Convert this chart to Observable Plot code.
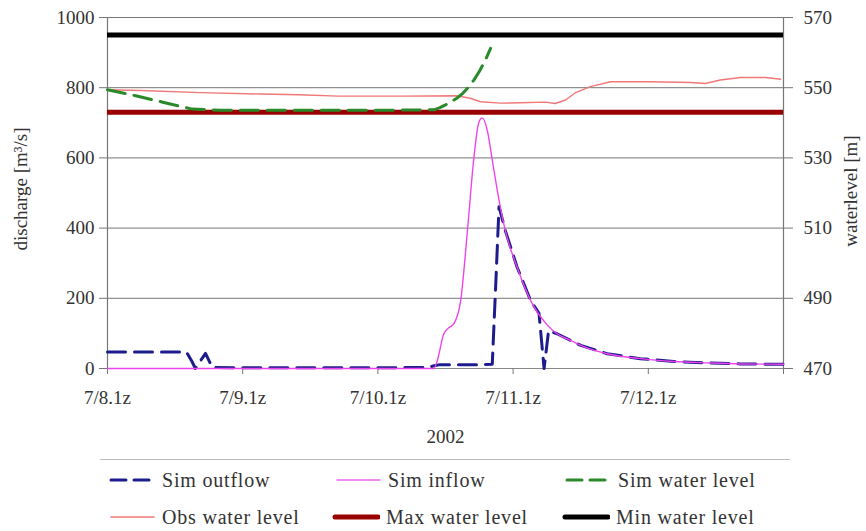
<!DOCTYPE html>
<html><head><meta charset="utf-8">
<script src="https://cdn.jsdelivr.net/npm/d3@7"></script>
<script src="https://cdn.jsdelivr.net/npm/@observablehq/plot@0.6"></script>
<style>
body{margin:0;background:#fff;font-family:"Liberation Serif","Times New Roman",Times,"DejaVu Serif",serif;color:#333;}
#wrap{position:relative;width:866px;height:531px;overflow:hidden;}
#legend{position:absolute;left:0;top:455px;width:866px;height:76px;}
.sep{position:absolute;left:100px;width:690px;top:4px;height:0;border-top:1px solid #bbb;}
.item{position:absolute;display:flex;align-items:center;font-size:20px;letter-spacing:0.8px;white-space:nowrap;}
.item svg{margin-right:6px;}
svg text{font-family:"Liberation Serif","Times New Roman",Times,"DejaVu Serif",serif;}
</style></head><body><div id="wrap"><div id="chart"></div><div id="legend"></div></div>
<script>
// x: hours since 7/8 01z
const xTickHours = [0, 24, 48, 72, 96, 120];
const xTickLabels = ["7/8.1z", "7/9.1z", "7/10.1z", "7/11.1z", "7/12.1z", ""];
const dischargeTicks = [0, 200, 400, 600, 800, 1000];
const levelTicks = [470, 490, 510, 530, 550, 570];

// Sim outflow [m3/s]
const outflowHours  = [0, 14, 15, 15.6, 17.4, 18.6, 24, 36, 48, 57, 58, 59, 66, 68.3, 68.9, 69.5, 70.6, 72.7, 75.1, 76.6, 77.5, 78.3, 79.8, 84, 88.7, 94.6, 100.5, 106.4, 112.4, 120];
const outflowValues = [47, 47, 20, 0, 43, 3, 2, 2, 2, 3, 8, 11, 11, 12, 232, 461, 394, 289, 194, 157, 0, 108, 99, 66, 42, 28, 20, 16, 13, 12];

// Sim inflow [m3/s]
const inflowHours  = [0, 57.9, 58.5, 59.7, 60.5, 61.5, 62.7, 63.9, 65, 65.9, 66.5, 67.4, 68.3, 69.5, 70.6, 72.7, 75.1, 78, 79.8, 82.2, 84, 88.7, 94.6, 100.5, 106.4, 112.4, 120];
const inflowValues = [0, 0, 20, 99, 115, 128, 194, 394, 594, 700, 714, 680, 594, 480, 394, 289, 194, 125, 99, 80, 66, 42, 28, 20, 16, 13, 12];

// Sim water level [m]
const simLevelHours  = [0, 5, 10, 15, 20, 30, 40, 50, 58, 59, 60, 61, 62, 63, 64, 65, 66, 67, 68];
const simLevelValues = [549.4, 547.7, 545.8, 543.9, 543.6, 543.6, 543.6, 543.6, 543.7, 544.3, 545.1, 546.0, 547.0, 548.3, 550.0, 552.1, 554.6, 557.6, 561.2];

// Obs water level [m]
const obsLevelHours  = [0, 5.9, 16.5, 27, 34, 41, 52, 62, 64.4, 66.2, 69.8, 73.3, 77.7, 79.5, 81.3, 83, 85.7, 89.3, 96.4, 103.5, 106.1, 108.8, 112.4, 116.8, 119.5];
const obsLevelValues = [549.4, 549.2, 548.6, 548.2, 548.0, 547.6, 547.6, 547.7, 547.0, 546.0, 545.6, 545.7, 545.9, 545.5, 546.5, 548.5, 550.3, 551.7, 551.7, 551.5, 551.2, 552.2, 552.9, 552.9, 552.4];

const maxWaterLevel = [543];
const minWaterLevel = [565];

const toY = lv => (lv - 470) * 10; // waterlevel -> left axis units
const outflow = outflowHours.map((h, i) => ({h, v: outflowValues[i]}));
const inflow = inflowHours.map((h, i) => ({h, v: inflowValues[i]}));
const simLevel = simLevelHours.map((h, i) => ({h, v: toY(simLevelValues[i])}));
const obsLevel = obsLevelHours.map((h, i) => ({h, v: toY(obsLevelValues[i])}));

const chart = Plot.plot({
  width: 866, height: 455,
  marginLeft: 107, marginRight: 83, marginTop: 17, marginBottom: 87,
  style: {fontSize: "19px", color: "#333", background: "#fff"},
  x: {domain: [0, 120]},
  y: {domain: [0, 1000]},
  marks: [
    Plot.ruleY(dischargeTicks.slice(1), {stroke: "#777", strokeWidth: 1}),
    Plot.ruleY([0], {stroke: "#888", strokeWidth: 1.2}),
    Plot.ruleX([0, 120], {stroke: "#777", strokeWidth: 1.2}),
    Plot.axisY({anchor: "left", ticks: dischargeTicks, tickFormat: d => String(d), tickSize: 8, tickPadding: 5, label: null, stroke: "#777"}),
    Plot.axisY({anchor: "right", ticks: levelTicks.map(toY), tickFormat: d => String(470 + d / 10), tickSize: 9, tickPadding: 11, label: null, stroke: "#777"}),
    Plot.axisX({ticks: xTickHours, tickFormat: d => xTickLabels[xTickHours.indexOf(d)], tickSize: 6, tickPadding: 16, label: null, stroke: "#777"}),
    Plot.text(["discharge [m³/s]"], {frameAnchor: "left", textAnchor: "middle", rotate: -90, dx: -87, dy: -4, fontSize: 19}),
    Plot.text(["waterlevel [m]"], {frameAnchor: "right", textAnchor: "middle", rotate: -90, dx: 67, dy: -2, fontSize: 19}),
    Plot.text(["2002"], {frameAnchor: "bottom", dy: 74, fontSize: 19}),
    Plot.ruleY(minWaterLevel.map(toY), {stroke: "#000", strokeWidth: 5}),
    Plot.ruleY(maxWaterLevel.map(toY), {stroke: "#990000", strokeWidth: 5}),
    Plot.line(obsLevel, {x: "h", y: "v", stroke: "#f07878", strokeWidth: 1.4}),
    Plot.line(simLevel, {x: "h", y: "v", stroke: "#2a8a2a", strokeWidth: 3, strokeDasharray: "18,9"}),
    Plot.line(outflow, {x: "h", y: "v", stroke: "#1c1c8c", strokeWidth: 3, strokeDasharray: "18,9"}),
    Plot.line(inflow, {x: "h", y: "v", stroke: "#ee44ee", strokeWidth: 1.4, curve: "monotone-x"})
  ]
});
document.getElementById("chart").appendChild(chart);

const legendItems = [
  {label: "Sim outflow", color: "#1c1c8c", w: 3, dash: "15,8", left: 108, top: 25},
  {label: "Sim inflow", color: "#ee66ee", w: 1.5, dash: null, left: 334, top: 25},
  {label: "Sim water level", color: "#2a8a2a", w: 3, dash: "15,8", left: 564, top: 25},
  {label: "Obs water level", color: "#f07878", w: 1.5, dash: null, left: 108, top: 62},
  {label: "Max water level", color: "#990000", w: 5, dash: null, left: 332, top: 62},
  {label: "Min water level", color: "#000", w: 5, dash: null, left: 562, top: 62}
];
const lg = document.getElementById("legend");
lg.innerHTML = '<div class="sep"></div>' + legendItems.map(it =>
  `<div class="item" style="left:${it.left}px;top:${it.top - 12}px;height:24px">` +
  `<svg width="48" height="10"><line x1="3" y1="5" x2="46" y2="5" stroke="${it.color}" stroke-width="${it.w}" stroke-linecap="round"${it.dash ? ` stroke-dasharray="${it.dash}"` : ""}/></svg>` +
  `<span>${it.label}</span></div>`).join("");
</script></body></html>
